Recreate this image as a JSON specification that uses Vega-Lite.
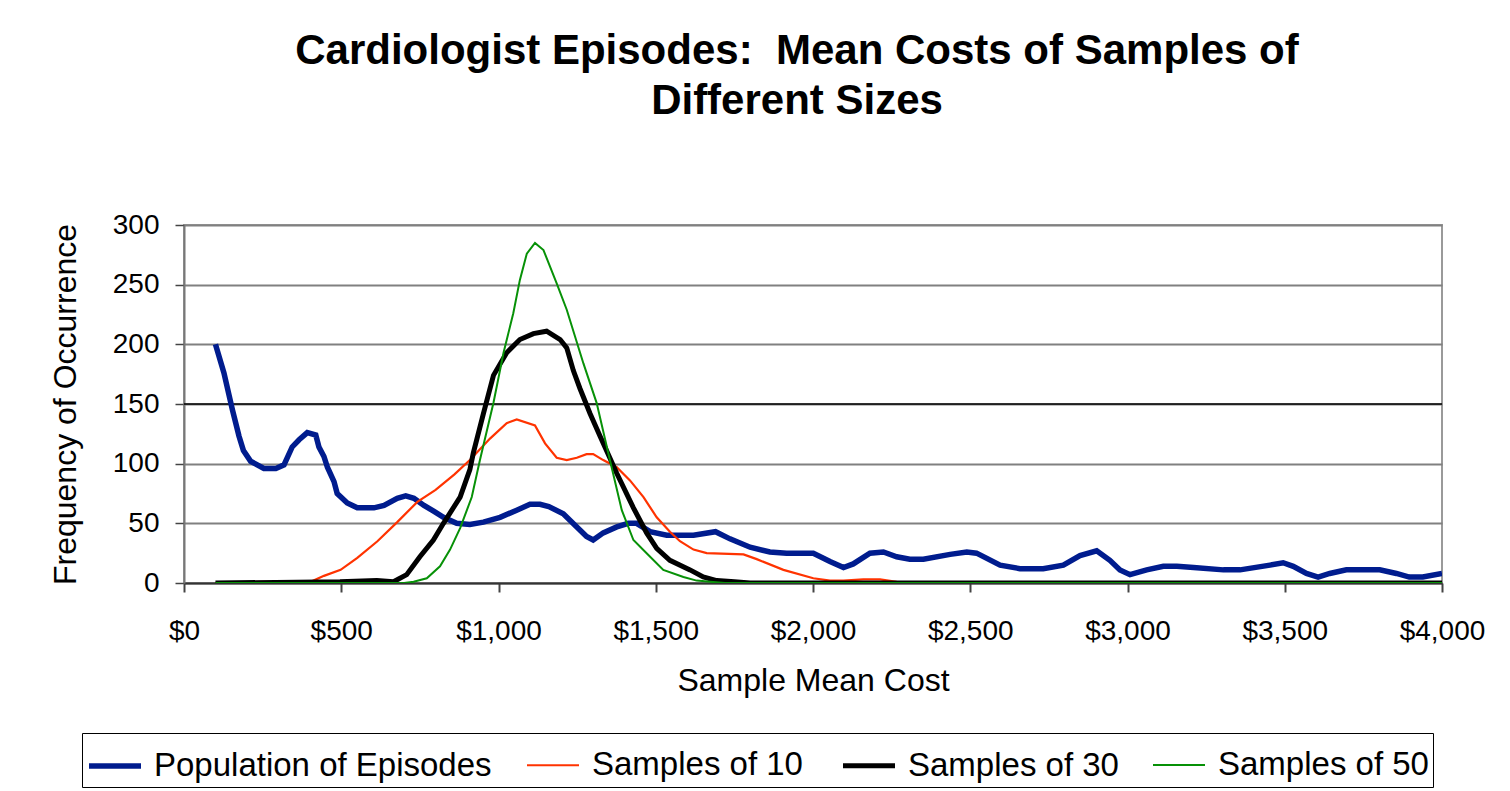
{
  "$schema": "https://vega.github.io/schema/vega-lite/v6.json",
  "autosize": {"type": "none"},
  "width": 1258,
  "height": 358,
  "padding": {"left": 184, "top": 225, "right": 68, "bottom": 208},
  "background": "white",
  "config": {
    "font": "Liberation Sans",
    "view": {"stroke": "#9a9a9a", "strokeWidth": 2}
  },
  "title": {
    "text": ["Cardiologist Episodes:\u00a0 Mean Costs of Samples of", "Different Sizes"],
    "fontSize": 42,
    "fontWeight": "bold",
    "font": "Liberation Sans",
    "color": "black",
    "anchor": "middle",
    "frame": "group",
    "dx": -16,
    "offset": 88,
    "lineHeight": 50
  },
  "layer": [
    {
      "data": {"values": [{"y": 150}]},
      "mark": {"type": "rule", "color": "black", "strokeWidth": 1.5},
      "encoding": {"y": {"field": "y", "type": "quantitative", "scale": {"domain": [0, 300]}}}
    },
    {
      "data": {
        "values": [
          {"series": "Population of Episodes", "cost": 100, "freq": 200},
          {"series": "Population of Episodes", "cost": 127, "freq": 176},
          {"series": "Population of Episodes", "cost": 154, "freq": 145},
          {"series": "Population of Episodes", "cost": 175, "freq": 123},
          {"series": "Population of Episodes", "cost": 189, "freq": 111},
          {"series": "Population of Episodes", "cost": 212, "freq": 102},
          {"series": "Population of Episodes", "cost": 254, "freq": 96},
          {"series": "Population of Episodes", "cost": 292, "freq": 96},
          {"series": "Population of Episodes", "cost": 318, "freq": 99},
          {"series": "Population of Episodes", "cost": 344, "freq": 114},
          {"series": "Population of Episodes", "cost": 366, "freq": 120},
          {"series": "Population of Episodes", "cost": 392, "freq": 126},
          {"series": "Population of Episodes", "cost": 419, "freq": 124},
          {"series": "Population of Episodes", "cost": 429, "freq": 114},
          {"series": "Population of Episodes", "cost": 445, "freq": 106},
          {"series": "Population of Episodes", "cost": 456, "freq": 97},
          {"series": "Population of Episodes", "cost": 477, "freq": 85},
          {"series": "Population of Episodes", "cost": 487, "freq": 75},
          {"series": "Population of Episodes", "cost": 519, "freq": 67},
          {"series": "Population of Episodes", "cost": 551, "freq": 63},
          {"series": "Population of Episodes", "cost": 604, "freq": 63},
          {"series": "Population of Episodes", "cost": 636, "freq": 65},
          {"series": "Population of Episodes", "cost": 678, "freq": 71},
          {"series": "Population of Episodes", "cost": 705, "freq": 73},
          {"series": "Population of Episodes", "cost": 731, "freq": 71},
          {"series": "Population of Episodes", "cost": 763, "freq": 65},
          {"series": "Population of Episodes", "cost": 795, "freq": 60},
          {"series": "Population of Episodes", "cost": 825, "freq": 55},
          {"series": "Population of Episodes", "cost": 867, "freq": 50},
          {"series": "Population of Episodes", "cost": 909, "freq": 49},
          {"series": "Population of Episodes", "cost": 952, "freq": 51},
          {"series": "Population of Episodes", "cost": 1005, "freq": 55},
          {"series": "Population of Episodes", "cost": 1058, "freq": 61},
          {"series": "Population of Episodes", "cost": 1100, "freq": 66},
          {"series": "Population of Episodes", "cost": 1132, "freq": 66},
          {"series": "Population of Episodes", "cost": 1160, "freq": 64},
          {"series": "Population of Episodes", "cost": 1206, "freq": 58},
          {"series": "Population of Episodes", "cost": 1249, "freq": 47},
          {"series": "Population of Episodes", "cost": 1280, "freq": 39},
          {"series": "Population of Episodes", "cost": 1301, "freq": 36},
          {"series": "Population of Episodes", "cost": 1333, "freq": 42},
          {"series": "Population of Episodes", "cost": 1376, "freq": 47},
          {"series": "Population of Episodes", "cost": 1413, "freq": 50},
          {"series": "Population of Episodes", "cost": 1439, "freq": 50},
          {"series": "Population of Episodes", "cost": 1482, "freq": 43},
          {"series": "Population of Episodes", "cost": 1535, "freq": 40},
          {"series": "Population of Episodes", "cost": 1620, "freq": 40},
          {"series": "Population of Episodes", "cost": 1690, "freq": 43},
          {"series": "Population of Episodes", "cost": 1736, "freq": 37},
          {"series": "Population of Episodes", "cost": 1800, "freq": 30},
          {"series": "Population of Episodes", "cost": 1863, "freq": 26},
          {"series": "Population of Episodes", "cost": 1916, "freq": 25},
          {"series": "Population of Episodes", "cost": 2001, "freq": 25},
          {"series": "Population of Episodes", "cost": 2054, "freq": 18},
          {"series": "Population of Episodes", "cost": 2097, "freq": 13},
          {"series": "Population of Episodes", "cost": 2128, "freq": 16},
          {"series": "Population of Episodes", "cost": 2181, "freq": 25},
          {"series": "Population of Episodes", "cost": 2224, "freq": 26},
          {"series": "Population of Episodes", "cost": 2266, "freq": 22},
          {"series": "Population of Episodes", "cost": 2308, "freq": 20},
          {"series": "Population of Episodes", "cost": 2351, "freq": 20},
          {"series": "Population of Episodes", "cost": 2436, "freq": 24},
          {"series": "Population of Episodes", "cost": 2489, "freq": 26},
          {"series": "Population of Episodes", "cost": 2520, "freq": 25},
          {"series": "Population of Episodes", "cost": 2595, "freq": 15},
          {"series": "Population of Episodes", "cost": 2658, "freq": 12},
          {"series": "Population of Episodes", "cost": 2732, "freq": 12},
          {"series": "Population of Episodes", "cost": 2796, "freq": 15},
          {"series": "Population of Episodes", "cost": 2849, "freq": 23},
          {"series": "Population of Episodes", "cost": 2902, "freq": 27},
          {"series": "Population of Episodes", "cost": 2944, "freq": 19},
          {"series": "Population of Episodes", "cost": 2976, "freq": 11},
          {"series": "Population of Episodes", "cost": 3008, "freq": 7},
          {"series": "Population of Episodes", "cost": 3061, "freq": 11},
          {"series": "Population of Episodes", "cost": 3114, "freq": 14},
          {"series": "Population of Episodes", "cost": 3157, "freq": 14},
          {"series": "Population of Episodes", "cost": 3210, "freq": 13},
          {"series": "Population of Episodes", "cost": 3305, "freq": 11},
          {"series": "Population of Episodes", "cost": 3358, "freq": 11},
          {"series": "Population of Episodes", "cost": 3453, "freq": 15},
          {"series": "Population of Episodes", "cost": 3495, "freq": 17},
          {"series": "Population of Episodes", "cost": 3527, "freq": 14},
          {"series": "Population of Episodes", "cost": 3569, "freq": 8},
          {"series": "Population of Episodes", "cost": 3606, "freq": 5},
          {"series": "Population of Episodes", "cost": 3643, "freq": 8},
          {"series": "Population of Episodes", "cost": 3696, "freq": 11},
          {"series": "Population of Episodes", "cost": 3802, "freq": 11},
          {"series": "Population of Episodes", "cost": 3855, "freq": 8},
          {"series": "Population of Episodes", "cost": 3896, "freq": 5},
          {"series": "Population of Episodes", "cost": 3939, "freq": 5},
          {"series": "Population of Episodes", "cost": 4000, "freq": 8},

          {"series": "Samples of 10", "cost": 100, "freq": 0},
          {"series": "Samples of 10", "cost": 244, "freq": 1},
          {"series": "Samples of 10", "cost": 403, "freq": 1},
          {"series": "Samples of 10", "cost": 445, "freq": 6},
          {"series": "Samples of 10", "cost": 498, "freq": 11},
          {"series": "Samples of 10", "cost": 551, "freq": 21},
          {"series": "Samples of 10", "cost": 615, "freq": 35},
          {"series": "Samples of 10", "cost": 678, "freq": 51},
          {"series": "Samples of 10", "cost": 742, "freq": 68},
          {"series": "Samples of 10", "cost": 800, "freq": 78},
          {"series": "Samples of 10", "cost": 860, "freq": 91},
          {"series": "Samples of 10", "cost": 909, "freq": 103},
          {"series": "Samples of 10", "cost": 973, "freq": 121},
          {"series": "Samples of 10", "cost": 1026, "freq": 134},
          {"series": "Samples of 10", "cost": 1058, "freq": 137},
          {"series": "Samples of 10", "cost": 1116, "freq": 132},
          {"series": "Samples of 10", "cost": 1148, "freq": 117},
          {"series": "Samples of 10", "cost": 1185, "freq": 105},
          {"series": "Samples of 10", "cost": 1217, "freq": 103},
          {"series": "Samples of 10", "cost": 1249, "freq": 105},
          {"series": "Samples of 10", "cost": 1280, "freq": 108},
          {"series": "Samples of 10", "cost": 1301, "freq": 108},
          {"series": "Samples of 10", "cost": 1333, "freq": 103},
          {"series": "Samples of 10", "cost": 1376, "freq": 97},
          {"series": "Samples of 10", "cost": 1418, "freq": 86},
          {"series": "Samples of 10", "cost": 1461, "freq": 72},
          {"series": "Samples of 10", "cost": 1503, "freq": 55},
          {"series": "Samples of 10", "cost": 1545, "freq": 43},
          {"series": "Samples of 10", "cost": 1577, "freq": 35},
          {"series": "Samples of 10", "cost": 1620, "freq": 28},
          {"series": "Samples of 10", "cost": 1662, "freq": 25},
          {"series": "Samples of 10", "cost": 1779, "freq": 24},
          {"series": "Samples of 10", "cost": 1821, "freq": 20},
          {"series": "Samples of 10", "cost": 1906, "freq": 11},
          {"series": "Samples of 10", "cost": 2001, "freq": 4},
          {"series": "Samples of 10", "cost": 2054, "freq": 2},
          {"series": "Samples of 10", "cost": 2097, "freq": 2},
          {"series": "Samples of 10", "cost": 2160, "freq": 3},
          {"series": "Samples of 10", "cost": 2213, "freq": 3},
          {"series": "Samples of 10", "cost": 2266, "freq": 1},
          {"series": "Samples of 10", "cost": 2310, "freq": 0},
          {"series": "Samples of 10", "cost": 4000, "freq": 0},

          {"series": "Samples of 30", "cost": 100, "freq": 0},
          {"series": "Samples of 30", "cost": 496, "freq": 1},
          {"series": "Samples of 30", "cost": 613, "freq": 2},
          {"series": "Samples of 30", "cost": 666, "freq": 1},
          {"series": "Samples of 30", "cost": 708, "freq": 7},
          {"series": "Samples of 30", "cost": 750, "freq": 22},
          {"series": "Samples of 30", "cost": 793, "freq": 36},
          {"series": "Samples of 30", "cost": 825, "freq": 50},
          {"series": "Samples of 30", "cost": 878, "freq": 72},
          {"series": "Samples of 30", "cost": 909, "freq": 95},
          {"series": "Samples of 30", "cost": 920, "freq": 109},
          {"series": "Samples of 30", "cost": 952, "freq": 142},
          {"series": "Samples of 30", "cost": 984, "freq": 174},
          {"series": "Samples of 30", "cost": 1026, "freq": 193},
          {"series": "Samples of 30", "cost": 1068, "freq": 204},
          {"series": "Samples of 30", "cost": 1111, "freq": 209},
          {"series": "Samples of 30", "cost": 1153, "freq": 211},
          {"series": "Samples of 30", "cost": 1196, "freq": 204},
          {"series": "Samples of 30", "cost": 1217, "freq": 197},
          {"series": "Samples of 30", "cost": 1238, "freq": 178},
          {"series": "Samples of 30", "cost": 1259, "freq": 163},
          {"series": "Samples of 30", "cost": 1291, "freq": 142},
          {"series": "Samples of 30", "cost": 1323, "freq": 123},
          {"series": "Samples of 30", "cost": 1376, "freq": 92},
          {"series": "Samples of 30", "cost": 1429, "freq": 63},
          {"series": "Samples of 30", "cost": 1471, "freq": 42},
          {"series": "Samples of 30", "cost": 1503, "freq": 29},
          {"series": "Samples of 30", "cost": 1545, "freq": 19},
          {"series": "Samples of 30", "cost": 1609, "freq": 11},
          {"series": "Samples of 30", "cost": 1651, "freq": 5},
          {"series": "Samples of 30", "cost": 1694, "freq": 2},
          {"series": "Samples of 30", "cost": 1750, "freq": 1},
          {"series": "Samples of 30", "cost": 1800, "freq": 0},
          {"series": "Samples of 30", "cost": 4000, "freq": 0},

          {"series": "Samples of 50", "cost": 100, "freq": 0},
          {"series": "Samples of 50", "cost": 700, "freq": 0},
          {"series": "Samples of 50", "cost": 730, "freq": 1},
          {"series": "Samples of 50", "cost": 772, "freq": 4},
          {"series": "Samples of 50", "cost": 814, "freq": 14},
          {"series": "Samples of 50", "cost": 846, "freq": 28},
          {"series": "Samples of 50", "cost": 878, "freq": 46},
          {"series": "Samples of 50", "cost": 915, "freq": 72},
          {"series": "Samples of 50", "cost": 941, "freq": 103},
          {"series": "Samples of 50", "cost": 984, "freq": 151},
          {"series": "Samples of 50", "cost": 1016, "freq": 193},
          {"series": "Samples of 50", "cost": 1047, "freq": 226},
          {"series": "Samples of 50", "cost": 1068, "freq": 254},
          {"series": "Samples of 50", "cost": 1090, "freq": 276},
          {"series": "Samples of 50", "cost": 1116, "freq": 285},
          {"series": "Samples of 50", "cost": 1143, "freq": 279},
          {"series": "Samples of 50", "cost": 1185, "freq": 251},
          {"series": "Samples of 50", "cost": 1217, "freq": 229},
          {"series": "Samples of 50", "cost": 1270, "freq": 184},
          {"series": "Samples of 50", "cost": 1312, "freq": 151},
          {"series": "Samples of 50", "cost": 1349, "freq": 109},
          {"series": "Samples of 50", "cost": 1392, "freq": 61},
          {"series": "Samples of 50", "cost": 1429, "freq": 36},
          {"series": "Samples of 50", "cost": 1471, "freq": 25},
          {"series": "Samples of 50", "cost": 1524, "freq": 11},
          {"series": "Samples of 50", "cost": 1588, "freq": 5},
          {"series": "Samples of 50", "cost": 1630, "freq": 2},
          {"series": "Samples of 50", "cost": 1673, "freq": 1},
          {"series": "Samples of 50", "cost": 1720, "freq": 0},
          {"series": "Samples of 50", "cost": 4000, "freq": 0}
        ]
      },
      "mark": {"type": "line", "clip": true},
      "encoding": {
        "x": {
          "field": "cost",
          "type": "quantitative",
          "scale": {"domain": [0, 4000], "nice": false},
          "axis": {
            "title": "Sample Mean Cost",
            "titleFontSize": 32,
            "titleFontWeight": "normal",
            "titleColor": "black",
            "titlePadding": 20,
            "values": [0, 500, 1000, 1500, 2000, 2500, 3000, 3500, 4000],
            "format": "$,.0f",
            "labelFontSize": 28,
            "labelColor": "black",
            "labelPadding": 25,
            "labelFlush": false,
            "tickSize": 9,
            "tickColor": "#444444",
            "tickWidth": 2,
            "domainColor": "#333333",
            "domainWidth": 2,
            "grid": false
          }
        },
        "y": {
          "field": "freq",
          "type": "quantitative",
          "scale": {"domain": [0, 300], "nice": false},
          "axis": {
            "title": "Frequency of Occurrence",
            "titleFontSize": 32,
            "titleFontWeight": "normal",
            "titleColor": "black",
            "titlePadding": 30,
            "values": [0, 50, 100, 150, 200, 250, 300],
            "labelFontSize": 28,
            "labelColor": "black",
            "labelPadding": 16,
            "tickSize": 9,
            "tickColor": "#444444",
            "tickWidth": 1.5,
            "domainColor": "#777777",
            "domainWidth": 2,
            "grid": true,
            "gridColor": "#808080",
            "gridWidth": 2
          }
        },
        "color": {
          "field": "series",
          "type": "nominal",
          "scale": {
            "domain": ["Population of Episodes", "Samples of 10", "Samples of 30", "Samples of 50"],
            "range": ["#001c8e", "#ff3300", "#000000", "#079107"]
          },
          "legend": {
            "title": null,
            "orient": "none",
            "direction": "horizontal",
            "columns": 4,
            "legendX": -102,
            "legendY": 508,
            "symbolType": "stroke",
            "symbolSize": 2704,
            "labelFontSize": 33,
            "labelLimit": 0,
            "labelColor": "black",
            "labelOffset": 10,
            "columnPadding": 30,
            "padding": 4,
            "strokeColor": "black",
            "fillColor": "white"
          }
        },
        "strokeWidth": {
          "field": "series",
          "type": "nominal",
          "scale": {
            "type": "ordinal",
            "domain": ["Population of Episodes", "Samples of 10", "Samples of 30", "Samples of 50"],
            "range": [5.5, 2.2, 5, 2]
          },
          "legend": {
            "title": null,
            "orient": "none",
            "direction": "horizontal",
            "columns": 4,
            "legendX": -102,
            "legendY": 508,
            "symbolType": "stroke",
            "symbolSize": 2704,
            "labelFontSize": 33,
            "labelLimit": 0,
            "labelColor": "black",
            "labelOffset": 10,
            "columnPadding": 30,
            "padding": 4,
            "strokeColor": "black",
            "fillColor": "white"
          }
        }
      }
    }
  ]
}
